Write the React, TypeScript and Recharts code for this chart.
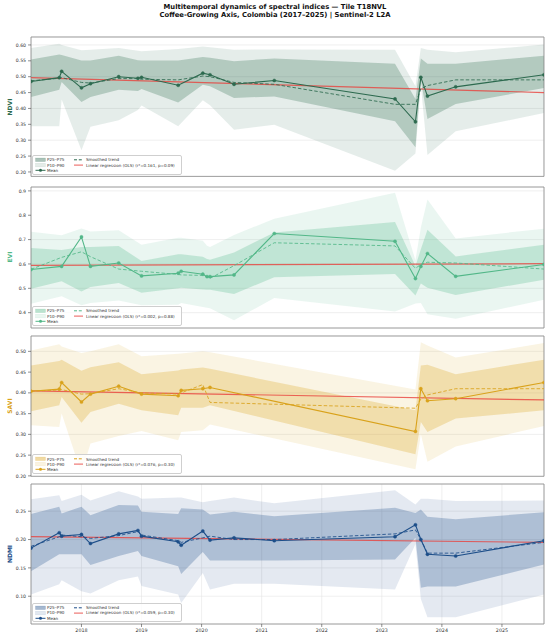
import React from 'react';
import { ComposedChart, Area, Line, XAxis, YAxis, CartesianGrid, ReferenceArea } from 'recharts';

// ---------- data ----------
const DATES = [2017.16, 2017.63, 2017.67, 2018.0, 2018.15, 2018.62, 2018.94, 2019.0, 2019.61, 2019.66, 2020.02, 2020.09, 2020.14, 2020.54, 2021.21, 2023.22, 2023.56, 2023.65, 2023.76, 2024.23, 2025.70];
const X_TICKS = [2018, 2019, 2020, 2021, 2022, 2023, 2024, 2025];

const ndviMean = [0.485, 0.497, 0.517, 0.465, 0.478, 0.500, 0.495, 0.498, 0.473, null, 0.511, null, 0.506, 0.476, 0.488, 0.430, 0.358, 0.498, 0.439, 0.468, 0.506];
const ndviSmooth = [0.487, 0.495, 0.497, 0.482, 0.480, 0.494, 0.494, 0.492, 0.490, null, 0.502, null, 0.500, 0.482, 0.476, 0.413, 0.413, 0.462, 0.472, 0.490, 0.490];
const ndviP10 = [0.344, 0.344, 0.428, 0.268, 0.342, 0.363, 0.395, 0.409, 0.344, null, 0.426, null, 0.410, 0.333, 0.349, 0.204, 0.258, 0.475, 0.253, 0.328, 0.386];
const ndviP25 = [0.436, 0.459, 0.483, 0.420, 0.436, 0.459, 0.455, 0.461, 0.419, null, 0.475, null, 0.470, 0.433, 0.438, 0.360, 0.278, 0.490, 0.367, 0.414, 0.464];
const ndviP75 = [0.554, 0.570, 0.568, 0.551, 0.551, 0.566, 0.552, 0.551, 0.551, null, 0.562, null, 0.560, 0.549, 0.557, 0.541, 0.430, 0.557, 0.541, 0.541, 0.566];
const ndviP90 = [0.590, 0.604, 0.600, 0.583, 0.585, 0.590, 0.582, 0.580, 0.587, null, 0.595, null, 0.593, 0.585, 0.586, 0.585, 0.470, 0.590, 0.585, 0.577, 0.601];
const ndviReg = [0.497, 0.450];

const eviMean = [0.577, null, 0.590, 0.711, 0.590, 0.604, null, 0.551, 0.562, 0.570, 0.558, 0.548, 0.548, 0.555, 0.725, 0.693, 0.540, 0.590, 0.643, 0.549, 0.598];
const eviSmooth = [0.578, null, 0.627, 0.650, 0.630, 0.579, null, 0.570, 0.557, 0.555, 0.553, 0.546, 0.541, 0.593, 0.687, 0.674, 0.582, 0.598, 0.607, 0.604, 0.579];
const eviP10 = [0.437, null, 0.467, 0.430, 0.440, 0.450, null, 0.430, 0.432, 0.440, 0.423, 0.420, 0.418, 0.369, 0.460, 0.405, 0.438, 0.440, 0.393, 0.375, 0.453];
const eviP25 = [0.498, null, 0.529, 0.487, 0.505, 0.522, null, 0.482, 0.500, 0.502, 0.495, 0.494, 0.494, 0.477, 0.545, 0.559, 0.470, 0.520, 0.502, 0.473, 0.535];
const eviP75 = [0.666, null, 0.657, 0.670, 0.670, 0.674, null, 0.612, 0.640, 0.640, 0.630, 0.620, 0.617, 0.647, 0.729, 0.772, 0.592, 0.660, 0.740, 0.631, 0.679];
const eviP90 = [0.732, null, 0.718, 0.746, 0.733, 0.738, null, 0.679, 0.708, 0.708, 0.695, 0.675, 0.670, 0.719, 0.786, 0.892, 0.615, 0.750, 0.865, 0.705, 0.745];
const eviReg = [0.594, 0.601];

const saviMean = [0.404, 0.409, 0.425, 0.378, 0.397, 0.416, null, 0.397, 0.393, 0.406, 0.410, null, 0.413, null, null, null, 0.307, 0.410, 0.381, 0.386, 0.425];
const saviSmooth = [0.404, 0.407, 0.408, 0.397, 0.398, 0.410, null, 0.400, 0.397, 0.400, 0.420, null, 0.377, null, null, null, 0.363, 0.385, 0.395, 0.410, 0.410];
const saviP10 = [0.322, 0.318, 0.350, 0.206, 0.278, 0.296, null, 0.308, 0.286, 0.306, 0.310, null, 0.324, null, null, null, 0.216, 0.300, 0.234, 0.271, 0.320];
const saviP25 = [0.356, 0.370, 0.390, 0.328, 0.354, 0.374, null, 0.358, 0.346, 0.364, 0.364, null, 0.370, null, null, null, 0.252, 0.330, 0.306, 0.338, 0.358];
const saviP75 = [0.466, 0.477, 0.480, 0.453, 0.462, 0.474, null, 0.445, 0.454, 0.456, 0.461, null, 0.458, null, null, null, 0.358, 0.466, 0.468, 0.445, 0.480];
const saviP90 = [0.502, 0.517, 0.512, 0.496, 0.500, 0.517, null, 0.488, 0.494, 0.495, 0.500, null, 0.498, null, null, null, 0.408, 0.522, 0.514, 0.485, 0.520];
const saviReg = [0.405, 0.383];

const ndmiMean = [0.185, 0.212, 0.206, 0.209, 0.193, 0.210, 0.216, 0.206, 0.196, 0.190, 0.215, null, 0.199, 0.203, 0.198, 0.205, 0.226, 0.200, 0.174, 0.171, 0.198];
const ndmiSmooth = [0.188, 0.205, 0.208, 0.205, 0.202, 0.207, 0.214, 0.208, 0.198, 0.195, 0.203, null, 0.206, 0.200, 0.200, 0.210, 0.217, 0.200, 0.176, 0.176, 0.195];
const ndmiP10 = [0.103, 0.121, 0.128, 0.109, 0.105, 0.128, 0.135, 0.118, 0.103, 0.088, 0.141, null, 0.112, 0.122, 0.122, 0.112, 0.192, 0.095, 0.063, 0.063, 0.103];
const ndmiP25 = [0.144, 0.174, 0.174, 0.174, 0.155, 0.171, 0.180, 0.171, 0.153, 0.139, 0.178, null, 0.163, 0.163, 0.163, 0.165, 0.203, 0.115, 0.117, 0.117, 0.156];
const ndmiP75 = [0.245, 0.258, 0.246, 0.258, 0.243, 0.261, 0.260, 0.249, 0.245, 0.255, 0.253, null, 0.244, 0.249, 0.241, 0.256, 0.247, 0.253, 0.240, 0.236, 0.248];
const ndmiP90 = [0.271, 0.278, 0.268, 0.279, 0.269, 0.285, 0.276, 0.272, 0.274, 0.274, 0.266, null, 0.268, 0.274, 0.264, 0.287, 0.262, 0.272, 0.272, 0.268, 0.269];
const ndmiReg = [0.205, 0.195];

const NDVI_TICKS = [0.2, 0.25, 0.3, 0.35, 0.4, 0.45, 0.5, 0.55, 0.6];
const EVI_TICKS = [0.4, 0.5, 0.6, 0.7, 0.8, 0.9];
const SAVI_TICKS = [0.2, 0.25, 0.3, 0.35, 0.4, 0.45, 0.5];
const NDMI_TICKS = [0.1, 0.15, 0.2, 0.25];

const TITLE1 = 'Multitemporal dynamics of spectral indices — Tile T18NVL';
const TITLE2 = 'Coffee-Growing Axis, Colombia (2017–2025) | Sentinel-2 L2A';

// ---------- helpers ----------
const X0 = DATES[0];
const X1 = DATES[DATES.length - 1];

function buildRows(mean, smooth, p10, p25, p75, p90, reg) {
  const last = DATES.length - 1;
  return DATES.map((x, i) => ({
    x,
    mean: mean[i],
    smooth: smooth[i],
    b90: mean[i] == null ? null : [p10[i], p90[i]],
    b75: mean[i] == null ? null : [p25[i], p75[i]],
    reg: i === 0 ? reg[0] : i === last ? reg[1] : null,
  })).filter((r) => r.mean != null);
}

const FONT = '"DejaVu Sans", sans-serif';
const REG_COLOR = '#e8413c';

function Legend({ color, stats, left, top }) {
  const txt = { position: 'absolute', fontSize: 4.1, color: '#333', whiteSpace: 'nowrap', lineHeight: '5px' } as React.CSSProperties;
  return (
    <div style={{ position: 'absolute', left, top, width: 150, height: 19.5, border: '0.6px solid #cfcfcf', borderRadius: 2, background: 'rgba(255,255,255,0.8)', fontFamily: FONT, boxSizing: 'border-box' }}>
      <svg width={150} height={20} style={{ position: 'absolute', left: 0, top: 0 }}>
        <rect x={2.5} y={2} width={10} height={3.6} fill={color} fillOpacity={0.4} stroke={color} strokeOpacity={0.3} strokeWidth={0.4} />
        <rect x={2.5} y={7.3} width={10} height={3.6} fill={color} fillOpacity={0.13} stroke={color} strokeOpacity={0.15} strokeWidth={0.4} />
        <line x1={2.5} x2={12.5} y1={14.3} y2={14.3} stroke={color} strokeWidth={1} />
        <circle cx={7.5} cy={14.3} r={1.5} fill={color} />
        <line x1={41} x2={50} y1={3.8} y2={3.8} stroke={color} strokeWidth={1} strokeDasharray="3 1.8" />
        <line x1={41} x2={50} y1={9.1} y2={9.1} stroke={REG_COLOR} strokeWidth={1} strokeOpacity={0.85} />
      </svg>
      <div style={{ ...txt, left: 14.5, top: 1.3 }}>P25–P75</div>
      <div style={{ ...txt, left: 14.5, top: 6.6 }}>P10–P90</div>
      <div style={{ ...txt, left: 14.5, top: 11.9 }}>Mean</div>
      <div style={{ ...txt, left: 53.5, top: 1.3 }}>Smoothed trend</div>
      <div style={{ ...txt, left: 53.5, top: 6.6 }}>{'Linear regression (OLS)  ' + stats}</div>
    </div>
  );
}

function Panel({ top, height, rows, color, label, domain, ticks, showX, stats, fmt }) {
  const xh = showX ? 12 : 4;
  const mt = 2;
  return (
    <div style={{ position: 'absolute', left: 0, top: top - mt, width: 550, height: height + xh + mt }}>
      <ComposedChart width={550} height={height + xh + mt} data={rows} margin={{ top: mt, right: 6, bottom: 0, left: 1 }}>
        <CartesianGrid stroke="#e4e4e4" strokeWidth={0.6} />
        <XAxis
          dataKey="x"
          type="number"
          domain={[X0, X1]}
          ticks={X_TICKS}
          allowDataOverflow
          height={xh}
          axisLine={false}
          tickSize={3}
          tickLine={{ stroke: '#444', strokeWidth: 0.6 }}
          tick={showX ? { fontSize: 4.8, fill: '#333', fontFamily: FONT } : false}
          tickMargin={1.5}
        />
        <YAxis
          type="number"
          domain={domain}
          ticks={ticks}
          allowDataOverflow
          width={30}
          axisLine={false}
          tickSize={3}
          tickLine={{ stroke: '#444', strokeWidth: 0.6 }}
          tick={{ fontSize: 4.6, fill: '#333', fontFamily: FONT }}
          tickFormatter={fmt}
        />
        <Area dataKey="b90" type="linear" stroke="none" fill={color} fillOpacity={0.12} isAnimationActive={false} dot={false} activeDot={false} />
        <Area dataKey="b75" type="linear" stroke="none" fill={color} fillOpacity={0.27} isAnimationActive={false} dot={false} activeDot={false} />
        <Line dataKey="reg" type="linear" stroke={REG_COLOR} strokeOpacity={0.8} strokeWidth={1.2} dot={false} activeDot={false} connectNulls isAnimationActive={false} />
        <Line dataKey="smooth" type="linear" stroke={color} strokeOpacity={0.85} strokeWidth={1} strokeDasharray="3.5 2" dot={false} activeDot={false} isAnimationActive={false} />
        <Line dataKey="mean" type="linear" stroke={color} strokeWidth={1.1} dot={{ r: 1.6, fill: color, stroke: color, strokeWidth: 0.4 }} activeDot={false} isAnimationActive={false} />
        <ReferenceArea x1={X0} x2={X1} y1={domain[0]} y2={domain[1]} fill="none" stroke="#8a8a8a" strokeWidth={0.8} ifOverflow="visible" />
      </ComposedChart>
      <div style={{ position: 'absolute', left: 9.3, top: mt + height / 2, transform: 'translate(-50%, -50%) rotate(-90deg)', fontFamily: FONT, fontWeight: 'bold', fontSize: 6, color, whiteSpace: 'nowrap' }}>{label}</div>
      <Legend color={color} stats={stats} left={31.5} top={mt + height - 21.5} />
    </div>
  );
}

const f2 = (v) => v.toFixed(2);
const f1 = (v) => v.toFixed(1);

export default function App() {
  const ndviRows = buildRows(ndviMean, ndviSmooth, ndviP10, ndviP25, ndviP75, ndviP90, ndviReg);
  const eviRows = buildRows(eviMean, eviSmooth, eviP10, eviP25, eviP75, eviP90, eviReg);
  const saviRows = buildRows(saviMean, saviSmooth, saviP10, saviP25, saviP75, saviP90, saviReg);
  const ndmiRows = buildRows(ndmiMean, ndmiSmooth, ndmiP10, ndmiP25, ndmiP75, ndmiP90, ndmiReg);
  return (
    <div style={{ position: 'relative', width: 550, height: 636, background: '#fff', overflow: 'hidden', fontFamily: FONT }}>
      <style>{'body{margin:0}'}</style>
      <div style={{ position: 'absolute', left: 0, width: 550, top: 2.5, textAlign: 'center', fontWeight: 'bold', fontSize: 6.8, lineHeight: '8px', color: '#111' }}>
        <div>{TITLE1}</div>
        <div>{TITLE2}</div>
      </div>
      <Panel top={37.3} height={139.4} rows={ndviRows} color="#2d6a4f" label="NDVI" domain={[0.186, 0.625]} ticks={NDVI_TICKS} showX={false} stats="(r²=0.161, p=0.09)" fmt={f2} />
      <Panel top={186.7} height={141} rows={eviRows} color="#52b788" label="EVI" domain={[0.337, 0.916]} ticks={EVI_TICKS} showX={false} stats="(r²=0.002, p=0.88)" fmt={f1} />
      <Panel top={335.7} height={140.3} rows={saviRows} color="#d9a21b" label="SAVI" domain={[0.199, 0.537]} ticks={SAVI_TICKS} showX={false} stats="(r²=0.076, p=0.30)" fmt={f2} />
      <Panel top={484.3} height={140} rows={ndmiRows} color="#1d4e89" label="NDMI" domain={[0.051, 0.298]} ticks={NDMI_TICKS} showX={true} stats="(r²=0.059, p=0.30)" fmt={f2} />
    </div>
  );
}
